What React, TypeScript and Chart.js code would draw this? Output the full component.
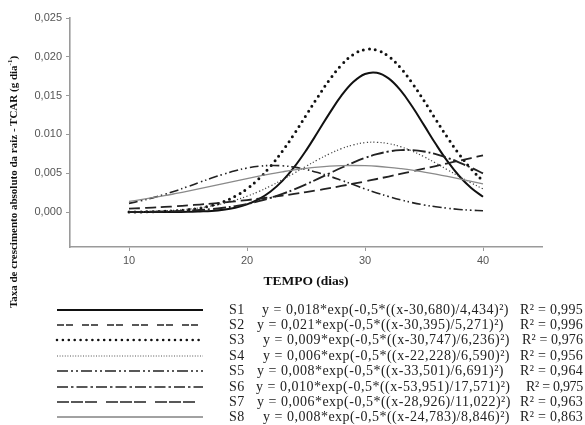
import React, { useEffect, useRef } from "react";
import { Chart, registerables } from "chart.js";
Chart.register(...registerables);

const days = [10, 11, 12, 13, 14, 15, 16, 17, 18, 19, 20, 21, 22, 23, 24, 25, 26, 27, 28, 29, 30, 31, 32, 33, 34, 35, 36, 37, 38, 39, 40];
const s1 = [0.0, 0.0, 0.0, 0.00001, 0.00002, 0.00003, 0.00008, 0.00015, 0.0003, 0.00056, 0.00099, 0.00166, 0.00265, 0.00402, 0.00579, 0.00792, 0.01031, 0.01275, 0.01499, 0.01675, 0.01779, 0.01795, 0.01722, 0.0157, 0.0136, 0.0112, 0.00876, 0.00652, 0.00461, 0.0031, 0.00198];
const s2 = [0.00001, 0.00002, 0.00005, 0.00009, 0.00017, 0.0003, 0.0005, 0.00083, 0.00132, 0.00203, 0.003, 0.00429, 0.00591, 0.00785, 0.01006, 0.01244, 0.01483, 0.01707, 0.01894, 0.02028, 0.02094, 0.02086, 0.02005, 0.01859, 0.01662, 0.01434, 0.01193, 0.00958, 0.00742, 0.00554, 0.00399];
const s3 = [0.00004, 0.00006, 0.0001, 0.00016, 0.00024, 0.00037, 0.00055, 0.00079, 0.00111, 0.00153, 0.00204, 0.00265, 0.00337, 0.00416, 0.00501, 0.00589, 0.00674, 0.00751, 0.00817, 0.00865, 0.00894, 0.00899, 0.00882, 0.00843, 0.00786, 0.00713, 0.00631, 0.00544, 0.00458, 0.00375, 0.00299];
const s4 = [0.00112, 0.00145, 0.00183, 0.00227, 0.00276, 0.00329, 0.00384, 0.00438, 0.00488, 0.00532, 0.00567, 0.0059, 0.006, 0.00596, 0.00579, 0.00549, 0.00509, 0.00462, 0.00409, 0.00354, 0.00299, 0.00247, 0.002, 0.00158, 0.00122, 0.00092, 0.00068, 0.00049, 0.00034, 0.00024, 0.00016];
const s5 = [0.00002, 0.00003, 0.00005, 0.00007, 0.00011, 0.00018, 0.00026, 0.00038, 0.00055, 0.00076, 0.00104, 0.0014, 0.00183, 0.00234, 0.00292, 0.00357, 0.00427, 0.00499, 0.00571, 0.00638, 0.00698, 0.00746, 0.0078, 0.00798, 0.00798, 0.0078, 0.00746, 0.00698, 0.00638, 0.00571, 0.00499];
const s6 = [0.00044, 0.0005, 0.00058, 0.00066, 0.00075, 0.00086, 0.00097, 0.0011, 0.00123, 0.00138, 0.00155, 0.00172, 0.00191, 0.00212, 0.00234, 0.00257, 0.00282, 0.00308, 0.00336, 0.00365, 0.00395, 0.00426, 0.00458, 0.00491, 0.00525, 0.00559, 0.00593, 0.00628, 0.00662, 0.00696, 0.0073];
const s7 = [0.00137, 0.0016, 0.00185, 0.00211, 0.0024, 0.0027, 0.00302, 0.00334, 0.00367, 0.004, 0.00432, 0.00463, 0.00493, 0.00519, 0.00543, 0.00563, 0.00579, 0.00591, 0.00598, 0.006, 0.00597, 0.0059, 0.00577, 0.0056, 0.0054, 0.00515, 0.00488, 0.00459, 0.00428, 0.00395, 0.00362];

const xTicks = [10, 20, 30, 40];
const xTickLabels = ["10", "20", "30", "40"];
const yTicks = [0, 0.005, 0.01, 0.015, 0.02, 0.025];
const yTickLabels = ["0,000", "0,005", "0.010", "0,015", "0,020", "0,025"];

const seriesNames = ["S1", "S2", "S3", "S4", "S5", "S6", "S7", "S8"];
const equations = [
  "y = 0,018*exp(-0,5*((x-30,680)/4,434)²)",
  "y = 0,021*exp(-0,5*((x-30,395)/5,271)²)",
  "y = 0,009*exp(-0,5*((x-30,747)/6,236)²)",
  "y = 0,006*exp(-0,5*((x-22,228)/6,590)²)",
  "y = 0,008*exp(-0,5*((x-33,501)/6,691)²)",
  "y = 0,010*exp(-0,5*((x-53,951)/17,571)²)",
  "y = 0,006*exp(-0,5*((x-28,926)/11,022)²)",
  "y = 0,008*exp(-0,5*((x-24,783)/8,846)²)",
];
const r2Labels = ["R² = 0,995", "R² = 0,996", "R² = 0,976", "R² = 0,956", "R² = 0,964", "R² = 0,975", "R² = 0,963", "R² = 0,863"];

// layout / styles (not data)
const rowY = [310, 325, 340, 356, 371, 387, 402, 417];
const eqX = [262, 257, 263, 263, 257, 256, 257, 263];
const r2Spacing = [0.3, 0.3, 0.1, 0.3, 0.3, -0.3, 0.3, 0.3];
const legendStyles = [
  { w: 2, dash: "", color: "#111", cap: "butt" },
  { w: 1.5, dash: "7 2 7 9", color: "#222", cap: "butt" },
  { w: 2.6, dash: "0 5.9", color: "#111", cap: "round" },
  { w: 1, dash: "1 1.6", color: "#555", cap: "butt" },
  { w: 1.6, dash: "11 3 2 3 2 3", color: "#222", cap: "butt" },
  { w: 1.6, dash: "11 3 2.5 3", color: "#222", cap: "butt" },
  { w: 1.6, dash: "12 2 12 2 12 9", color: "#222", cap: "butt" },
  { w: 1, dash: "", color: "#444", cap: "butt" },
];

const textBase: React.CSSProperties = {
  position: "absolute",
  fontFamily: "Liberation Serif",
  fontSize: 14,
  lineHeight: "16px",
  color: "#222",
  whiteSpace: "nowrap",
};

export default function App() {
  const ref = useRef<HTMLCanvasElement | null>(null);
  useEffect(() => {
    if (!ref.current) return;
    const pts = (arr: number[]) => days.map((d, i) => ({ x: d, y: arr[i] }));
    const base = { pointRadius: 0, tension: 0.4, fill: false, borderJoinStyle: "round" as const };
    const chart = new Chart(ref.current, {
      type: "line",
      data: {
        datasets: [
          { ...base, label: "S7", data: pts(s7), borderColor: "#8a8a8a", borderWidth: 1.3 },
          { ...base, label: "S6", data: pts(s6), borderColor: "#222", borderWidth: 1.8, borderDash: [11, 5] },
          { ...base, label: "S5", data: pts(s5), borderColor: "#222", borderWidth: 1.9, borderDash: [13, 3, 2, 3] },
          { ...base, label: "S4", data: pts(s4), borderColor: "#222", borderWidth: 1.6, borderDash: [9, 3, 1.5, 3, 1.5, 3] },
          { ...base, label: "S3", data: pts(s3), borderColor: "#444", borderWidth: 1.2, borderDash: [1.2, 2.2] },
          { ...base, label: "S1", data: pts(s1), borderColor: "#111", borderWidth: 2 },
          { ...base, label: "S2", data: pts(s2), borderColor: "#111", borderWidth: 3, borderDash: [0, 6], borderCapStyle: "round" as const },
        ],
      },
      options: {
        responsive: false,
        animation: false,
        devicePixelRatio: 1,
        layout: { padding: { top: 18, right: 43, left: 0, bottom: 0 } },
        plugins: { legend: { display: false }, tooltip: { enabled: false } },
        scales: {
          x: {
            type: "linear",
            min: 5,
            max: 45,
            afterFit: (s: any) => { s.height = 53; },
            afterBuildTicks: (s: any) => { s.ticks = xTicks.map((v) => ({ value: v })); },
            ticks: {
              autoSkip: false,
              maxRotation: 0,
              padding: 3,
              color: "#555",
              font: { family: "Liberation Sans", size: 11 },
              callback: (_v: any, i: number) => xTickLabels[i],
            },
            grid: { display: true, drawOnChartArea: false, drawTicks: true, tickLength: 4, color: "#999" },
            border: { display: true, color: "#9a9a9a", width: 1.6 },
            title: {
              display: true,
              text: "TEMPO (dias)",
              color: "#111",
              font: { family: "Liberation Serif", size: 13.5, weight: "bold" },
              padding: { top: 0, bottom: 10 },
            },
          },
          y: {
            type: "linear",
            min: -0.0045,
            max: 0.025,
            afterFit: (s: any) => { s.width = 70; },
            afterBuildTicks: (s: any) => { s.ticks = yTicks.map((v) => ({ value: v })); },
            ticks: {
              autoSkip: false,
              padding: 4,
              color: "#555",
              font: { family: "Liberation Sans", size: 11 },
              callback: (_v: any, i: number) => yTickLabels[i],
            },
            grid: { display: true, drawOnChartArea: false, drawTicks: true, tickLength: 4, color: "#999" },
            border: { display: true, color: "#9a9a9a", width: 1.6 },
          },
        },
      },
    });
    return () => chart.destroy();
  }, []);

  return (
    <div style={{ position: "fixed", left: 0, top: 0, width: 585, height: 425, background: "#fff", overflow: "hidden" }}>
      <canvas ref={ref} width={585} height={300} style={{ position: "absolute", left: 0, top: 0, width: 585, height: 300 }} />
      <div
        style={{
          position: "absolute",
          left: 12.5,
          top: 182,
          transform: "translate(-50%, -50%) rotate(-90deg)",
          whiteSpace: "nowrap",
          fontFamily: "Liberation Serif",
          fontWeight: "bold",
          fontSize: 11,
          color: "#111",
          lineHeight: "13px",
        }}
      >
        Taxa de crescimento absoluto da raiz - TCAR (g dia<sup style={{ fontSize: 7, lineHeight: 0 }}>-1</sup>)
      </div>
      <svg width={585} height={425} style={{ position: "absolute", left: 0, top: 0 }}>
        {legendStyles.map((st, i) => (
          <line
            key={i}
            x1={57}
            x2={203}
            y1={rowY[i]}
            y2={rowY[i]}
            stroke={st.color}
            strokeWidth={st.w}
            strokeDasharray={st.dash || undefined}
            strokeLinecap={st.cap as any}
          />
        ))}
      </svg>
      {seriesNames.map((n, i) => (
        <React.Fragment key={n}>
          <div style={{ ...textBase, left: 229, top: rowY[i] - 8, letterSpacing: 0.5 }}>{n}</div>
          <div style={{ ...textBase, left: eqX[i], top: rowY[i] - 8, letterSpacing: 0.5 }}>{equations[i]}</div>
          <div style={{ ...textBase, right: 2, top: rowY[i] - 8, letterSpacing: r2Spacing[i] }}>{r2Labels[i]}</div>
        </React.Fragment>
      ))}
    </div>
  );
}
